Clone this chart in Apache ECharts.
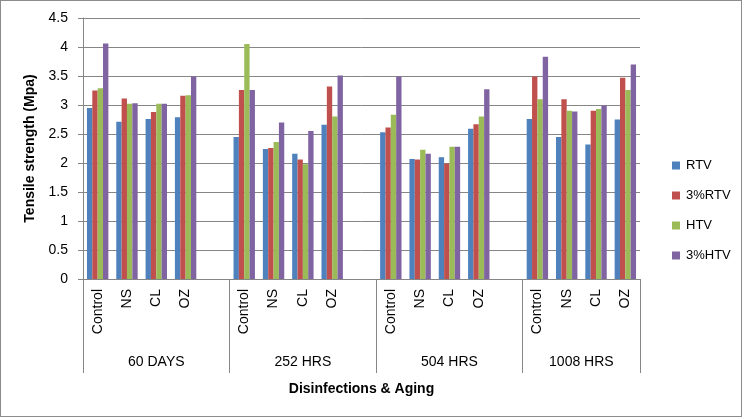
<!DOCTYPE html>
<html><head><meta charset="utf-8">
<script src="https://cdn.jsdelivr.net/npm/echarts@6/dist/echarts.min.js"></script>
<style>
html,body{margin:0;padding:0;background:#fff;}
#frame{position:absolute;left:0;top:0;width:740px;height:415px;border:1px solid #8c8c8c;}
#c{position:absolute;left:0;top:0;width:746px;height:418px;}
</style></head>
<body><div id="frame"></div><div id="c"></div>
<script>
const groups = ['60 DAYS', '252 HRS', '504 HRS', '1008 HRS'];
const treatments = ['Control', 'NS', 'CL', 'OZ'];
const seriesNames = ['RTV', '3%RTV', 'HTV', '3%HTV'];
const colors = ['#4F81BD', '#C0504D', '#9BBB59', '#8064A2'];
// values per group order: 60 DAYS(Control,NS,CL,OZ), 252 HRS, 504 HRS, 1008 HRS
const rtv     = [2.95, 2.71, 2.76, 2.79,  2.45, 2.24, 2.16, 2.66,  2.53, 2.07, 2.10, 2.59,  2.76, 2.45, 2.32, 2.75];
const rtv3    = [3.25, 3.11, 2.88, 3.16,  3.26, 2.26, 2.06, 3.32,  2.61, 2.06, 1.99, 2.67,  3.49, 3.10, 2.90, 3.47];
const htv     = [3.29, 3.02, 3.02, 3.17,  4.05, 2.36, 1.98, 2.80,  2.83, 2.23, 2.28, 2.80,  3.10, 2.90, 2.93, 3.26];
const htv3    = [4.06, 3.03, 3.02, 3.49,  3.26, 2.70, 2.55, 3.51,  3.49, 2.16, 2.28, 3.27,  3.83, 2.89, 2.99, 3.70];
const yTicks = [0, 0.5, 1, 1.5, 2, 2.5, 3, 3.5, 4, 4.5];

// build slot list: 4 treatments per group, plus an empty spacer slot between groups
const cats = [];
const slotMap = [];
groups.forEach((g, gi) => {
  treatments.forEach((t, ti) => { cats.push(t); slotMap.push(gi * 4 + ti); });
  if (gi < groups.length - 1) { cats.push(' '.repeat(gi + 1)); slotMap.push(-1); }
});
const toSlots = arr => slotMap.map(i => i < 0 ? '-' : arr[i]);
const groupStart = []; const groupEnd = [];
{
  let pos = 0;
  groups.forEach((g, gi) => {
    groupStart.push(pos);
    const len = treatments.length + (gi < groups.length - 1 ? 1 : 0);
    pos += len; groupEnd.push(pos);
  });
}
const groupCenters = groups.map((g, i) => (groupStart[i] + groupEnd[i]) / 2);
const seps = groupStart.concat([groupEnd[groupEnd.length - 1]]);
const fontFam = '"Liberation Sans", Arial, sans-serif';

const chart = echarts.init(document.getElementById('c'));
chart.setOption({
  animation: false,
  textStyle: { fontFamily: fontFam },
  grid: { left: 83, right: 106, top: 18, bottom: 139 },
  legend: {
    orient: 'vertical', left: 667, top: 154,
    itemWidth: 8, itemHeight: 8, itemGap: 17,
    icon: 'rect',
    textStyle: { fontSize: 13, color: '#000', fontFamily: fontFam, padding: [0, 0, 0, 1] },
    data: seriesNames
  },
  xAxis: [
    {
      type: 'category', data: cats, position: 'bottom',
      axisLine: { lineStyle: { color: '#868686' } },
      axisTick: { show: false },
      axisLabel: { rotate: 90, fontSize: 14, color: '#000', margin: 10, interval: 0 }
    },
    {
      type: 'value', min: 0, max: cats.length, position: 'bottom',
      axisLine: { show: false },
      splitLine: { show: false },
      axisTick: { show: true, customValues: seps, length: 94, lineStyle: { color: '#868686' } },
      axisLabel: {
        customValues: groupCenters, fontSize: 14, color: '#000', margin: 76,
        formatter: v => { const i = groupCenters.indexOf(v); return i >= 0 ? groups[i] : ''; }
      },
      name: 'Disinfections & Aging', nameLocation: 'middle', nameGap: 103,
      nameTextStyle: { fontSize: 14, fontWeight: 'bold', color: '#000' }
    }
  ],
  yAxis: {
    type: 'value', min: 0, max: 4.5, interval: 0.5,
    axisLine: { show: true, lineStyle: { color: '#868686' } },
    axisTick: { show: true, length: 5, lineStyle: { color: '#868686' } },
    splitLine: { lineStyle: { color: '#868686' } },
    axisLabel: { fontSize: 14, color: '#000', margin: 15 },
    name: 'Tensile strength (Mpa)', nameLocation: 'middle', nameGap: 42,
    nameTextStyle: { fontSize: 14, fontWeight: 'bold', color: '#000' }
  },
  series: [rtv, rtv3, htv, htv3].map((arr, i) => ({
    name: seriesNames[i], type: 'bar', xAxisIndex: 0,
    data: toSlots(arr),
    itemStyle: { color: colors[i] },
    barGap: '0%', barCategoryGap: '27%'
  }))
});
</script></body></html>
